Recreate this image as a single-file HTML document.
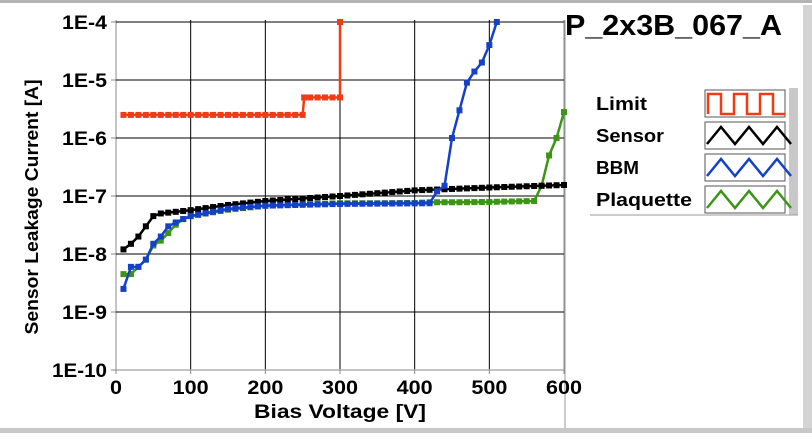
<!DOCTYPE html><html><head><style>
body{margin:0;width:812px;height:433px;overflow:hidden;background:#fff;font-family:"Liberation Sans",sans-serif}
</style></head><body>
<svg id="s" width="812" height="433" xmlns="http://www.w3.org/2000/svg" font-family="Liberation Sans, sans-serif" font-weight="bold">
<rect x="0" y="0" width="812" height="3" fill="#b4b4b4"/>
<rect x="0" y="428" width="812" height="5" fill="#c8c8c8"/>
<rect x="803" y="5" width="9" height="423" fill="#d4d4d4"/>
<line x1="565" y1="20" x2="565" y2="428" stroke="#999" stroke-width="1"/>
<text x="565" y="35" font-size="29" fill="#000" textLength="217" lengthAdjust="spacingAndGlyphs">P_2x3B_067_A</text>
<g id="grid"></g>
<g id="data"></g>
<rect x="789" y="88" width="9" height="127" fill="#c8c8c8"/>
<line x1="590" y1="215" x2="798" y2="215" stroke="#999"/>
<g font-size="18">
<text x="596" y="110" textLength="51" lengthAdjust="spacingAndGlyphs">Limit</text>
<text x="596" y="142" textLength="68" lengthAdjust="spacingAndGlyphs">Sensor</text>
<text x="596" y="174" textLength="43" lengthAdjust="spacingAndGlyphs">BBM</text>
<text x="596" y="206" textLength="96" lengthAdjust="spacingAndGlyphs">Plaquette</text>
</g>
<g id="leg"></g>
<text x="340" y="418" font-size="19" text-anchor="middle" textLength="172" lengthAdjust="spacingAndGlyphs">Bias Voltage [V]</text>
<text transform="translate(38,207) rotate(-90)" font-size="18" text-anchor="middle" textLength="255" lengthAdjust="spacingAndGlyphs">Sensor Leakage Current [A]</text>
</svg>
<script>
const NS="http://www.w3.org/2000/svg";
const X=v=>116+v*448/600, Y=l=>22+(-4-l)*58;
function el(p,t,a,txt){const e=document.createElementNS(NS,t);for(const k in a)e.setAttribute(k,a[k]);if(txt!==undefined)e.textContent=txt;document.getElementById(p).appendChild(e);return e;}
for(let i=0;i<=6;i++){const x=X(i*100);el('grid','line',{x1:x,y1:20,x2:x,y2:369,stroke:i==0||i==6?'#888':'#000','stroke-width':1});
el('grid','line',{x1:x,y1:369,x2:x,y2:374,stroke:'#888'});
const s=String(i*100);
el('grid','text',{x:x,y:394,'font-size':19,'text-anchor':'middle',textLength:s.length*12,lengthAdjust:'spacingAndGlyphs'},s);}
for(let d=0;d<=6;d++){const y=Y(-4-d);el('grid','line',{x1:116,y1:y,x2:564,y2:y,stroke:d==6?'#888':'#000'});
el('grid','line',{x1:111,y1:y,x2:116,y2:y,stroke:'#888'});
const s='1E-'+(4+d);
el('grid','text',{x:107,y:y+7,'font-size':19,'text-anchor':'end',textLength:d==6?55:45,lengthAdjust:'spacingAndGlyphs'},s);}
function series(pts,col){const d=pts.map(p=>X(p[0])+','+Y(Math.log10(p[1]))).join(' ');
el('data','polyline',{points:d,fill:'none',stroke:col,'stroke-width':2.5});
pts.forEach(p=>{if(p[1]<=1.01e-4)el('data','rect',{x:X(p[0])-3,y:Y(Math.log10(p[1]))-3,width:6,height:6,fill:col});});}
function fill(S){let f=[];for(let i=0;i<S.length-1;i++){const[a,b]=[S[i],S[i+1]];for(let v=a[0];v<b[0];v+=10)f.push([v,Math.pow(10,Math.log10(a[1])+(Math.log10(b[1])-Math.log10(a[1]))*(v-a[0])/(b[0]-a[0]))]);}f.push(S[S.length-1]);return f;}
let L=[];for(let v=10;v<=250;v+=10)L.push([v,2.5e-6]);L.push([252,5e-6]);for(let v=260;v<=300;v+=10)L.push([v,5e-6]);L.push([300,1e-4]);
series(L,'#f03c14');
series(fill([[10,4.5e-9],[20,4.5e-9],[30,6e-9],[40,8e-9],[50,1.4e-8],[60,1.7e-8],[70,2.3e-8],[80,3.2e-8],[90,4e-8],[100,4.5e-8],[150,5.8e-8],[200,6.8e-8],[250,7.2e-8],[300,7.5e-8],[350,7.5e-8],[400,7.6e-8],[420,7.8e-8],[460,7.8e-8],[500,7.9e-8],[560,8.2e-8],[570,1.5e-7],[580,5e-7],[590,1e-6],[600,2.8e-6]]),'#3c9614');
series(fill([[10,1.2e-8],[20,1.5e-8],[30,2e-8],[40,3e-8],[50,4.5e-8],[60,5e-8],[100,5.7e-8],[150,7e-8],[200,8.2e-8],[300,1e-7],[400,1.25e-7],[500,1.4e-7],[600,1.55e-7]]),'#000');
series(fill([[10,2.5e-9],[20,6e-9],[30,6e-9],[40,8e-9],[50,1.5e-8],[60,2e-8],[70,3e-8],[80,3.5e-8],[90,4e-8],[100,4.5e-8],[150,6e-8],[200,6.8e-8],[300,7.3e-8],[420,7.5e-8],[430,1.2e-7],[440,1.5e-7],[450,1e-6],[460,3e-6],[470,9e-6],[480,1.4e-5],[490,2e-5],[500,4e-5],[510,1e-4]]),'#1441c8');
const cols=['#f03c14','#000','#1441c8','#3c9614'];
cols.forEach((c,i)=>{const y=90+i*32;el('leg','rect',{x:705,y:y,width:80,height:27,fill:'#fff',stroke:'#555'});
let pts;if(i==0){pts=[];for(let k=0;k<3;k++){const x0=708+k*26;pts.push([x0,y+24],[x0,y+4],[x0+13,y+4],[x0+13,y+24]);}pts.push([785,y+24]);}
else{pts=[[707,y+22]];for(let k=0;k<3;k++){const x0=707+k*28;pts.push([x0+14,y+5],[x0+28,y+22]);}}
el('leg','polyline',{points:pts.map(p=>p.join(',')).join(' '),fill:'none',stroke:c,'stroke-width':2.5});});
</script>
</body></html>
